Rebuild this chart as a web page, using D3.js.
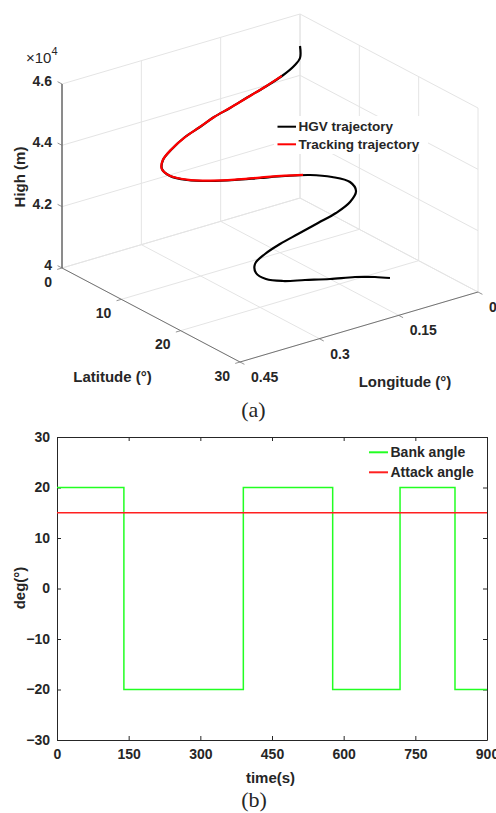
<!DOCTYPE html>
<html><head><meta charset="utf-8">
<script src="https://cdn.jsdelivr.net/npm/d3@7"></script>
<style>
body{margin:0;background:#fff}
text{font-family:"Liberation Sans",Arial,sans-serif;font-weight:bold;fill:#262626}
</style>
</head><body><svg id="c" width="496" height="813"></svg>
<script>
// ---------- (a) 3D trajectory data ----------
const hgvLat = [0,0.43,0.79,1.35,2.07,2.78,3.54,4.20,4.82,5.47,6.11,6.62,6.94,7.32,7.95,8.78,9.68,10.58,11.48,12.38,13.17,13.85,14.23,14.68,15.33,16.07,16.89,17.63,18.28,18.78,19.11,19.53,20.15,20.94,21.84,22.74,23.46,24.00];
const hgvLon = [0,0.0048,0.0202,0.0492,0.0894,0.1295,0.1720,0.2097,0.2431,0.2788,0.3106,0.3333,0.3388,0.3279,0.3028,0.2687,0.2315,0.1943,0.1571,0.1200,0.0872,0.0608,0.0537,0.0701,0.1039,0.1462,0.1933,0.2356,0.2713,0.2958,0.2976,0.2834,0.2582,0.2255,0.1883,0.1511,0.1214,0.0991];
const hgvHeight = [44957,44634,44488,44366,44285,44235,44169,44134,44041,43962,43797,43606,43373,43129,42935,42814,42750,42719,42687,42623,42473,42245,41955,41725,41604,41568,41532,41496,41418,41267,41016,40791,40662,40609,40545,40514,40437,40346];
const trkLat = [1.35,2.07,2.78,3.54,4.20,4.82,5.47,6.11,6.62,6.94,7.32,7.95,8.78,9.68,10.58,11.48,12.10];
const trkLon = [0.0495,0.0890,0.1300,0.1716,0.2101,0.2427,0.2792,0.3110,0.3338,0.3392,0.3282,0.3030,0.2690,0.2318,0.1946,0.1574,0.1300];
const trkHeight = [44372,44292,44228,44176,44128,44048,43955,43803,43600,43380,43140,42950,42830,42762,42735,42700,42650];
const latTicks = [0,10,20,30];
const lonTicks = [0.45,0.3,0.15,0];
const lonTickLabels = ["0.45","0.3","0.15","0"];
const heightTicks = [40000,42000,44000,46000];
const heightTickLabels = ["4","4.2","4.4","4.6"];
const legendA = ["HGV trajectory","Tracking trajectory"];
const colorsA = ["#000000","#ff0000"];

// ---------- (b) angle data ----------
const bankTime = [0,140,390,577,718,833,900];
const bankValue = [20,-20,20,-20,20,-20,-20];
const attackTime = [0,900];
const attackValue = [15,15];
const timeTicks = [0,150,300,450,600,750,900];
const degTicks = [-30,-20,-10,0,10,20,30];
const legendB = ["Bank angle","Attack angle"];
const colorsB = ["#22ff22","#ff2020"];

const FONT = "'Liberation Sans',Arial,sans-serif";
const svg = d3.select("#c");
svg.append("rect").attr("width",496).attr("height",813).attr("fill","#fff");

// ---------- 3D projection ----------
const latS = d3.scaleLinear().domain([0,30]).range([0,1]);
const lonS = d3.scaleLinear().domain([0.45,0]).range([0,1]);
const hS = d3.scaleLinear().domain([40000,46000]).range([268,84]);
const LV = [178,94], NV = [238,-70], X0 = 62;
function P(lat,lon,h){const a=latS(lat), b=lonS(lon); return [X0+LV[0]*a+NV[0]*b, hS(h)+LV[1]*a+NV[1]*b];}
const gA = svg.append("g");
function seg(g,p,q,stroke,w){g.append("line").attr("x1",p[0]).attr("y1",p[1]).attr("x2",q[0]).attr("y2",q[1]).attr("stroke",stroke).attr("stroke-width",w);}
function txt(g,xx,yy,s,size,anchor){return g.append("text").attr("x",xx).attr("y",yy).attr("text-anchor",anchor||"start").attr("dominant-baseline","central").attr("font-size",size).style("font-family",FONT).text(s);}
const GC = "#e4e4e4";
const hMin=40000,hMax=46000,latMax=30;
// wall lat=0
lonTicks.forEach(l=>seg(gA,P(0,l,hMin),P(0,l,hMax),GC,1));
heightTicks.forEach(h=>seg(gA,P(0,0.45,h),P(0,0,h),GC,1));
// wall lon=0
latTicks.forEach(l=>seg(gA,P(l,0,hMin),P(l,0,hMax),GC,1));
heightTicks.forEach(h=>seg(gA,P(0,0,h),P(latMax,0,h),GC,1));
// floor
latTicks.forEach(l=>seg(gA,P(l,0.45,hMin),P(l,0,hMin),GC,1));
lonTicks.forEach(l=>seg(gA,P(0,l,hMin),P(latMax,l,hMin),GC,1));
// axes
seg(gA,P(0,0.45,hMin),P(0,0.45,hMax),"#262626",1);
seg(gA,P(0,0.45,hMin),P(latMax,0.45,hMin),"#555",0.8);
seg(gA,P(latMax,0.45,hMin),P(latMax,0,hMin),"#555",0.8);
const nL=Math.hypot(LV[0],LV[1]), nN=Math.hypot(NV[0],NV[1]);
heightTicks.forEach((h,i)=>{const p=P(0,0.45,h);seg(gA,p,[p[0]-5*LV[0]/nL,p[1]-5*LV[1]/nL],"#777",0.8);
  txt(gA,p[0]-10,p[1]-3,heightTickLabels[i],14,"end");});
latTicks.forEach(l=>{const p=P(l,0.45,hMin);seg(gA,p,[p[0]-5*NV[0]/nN,p[1]-5*NV[1]/nN],"#777",0.8);
  txt(gA,p[0]-10,p[1]+13.5,l,14,"end");});
lonTicks.forEach((l,i)=>{const p=P(latMax,l,hMin);seg(gA,p,[p[0]+5*LV[0]/nL,p[1]+5*LV[1]/nL],"#777",0.8);
  txt(gA,p[0]+11,p[1]+15,lonTickLabels[i],14,"start");});
// exponent
const ex = txt(gA,26,57,"",15,"start").style("font-weight","normal");
ex.append("tspan").text("×10");
ex.append("tspan").attr("font-size",11).attr("dy",-6).text("4");
// axis titles
txt(gA,0,0,"High (m)",15,"middle").attr("transform","translate(19,177) rotate(-90)");
txt(gA,112.5,376,"Latitude (°)",15,"middle");
txt(gA,405,381.5,"Longitude (°)",15,"middle");
// trajectories
const line3 = d3.line().x(d=>d[0]).y(d=>d[1]).curve(d3.curveCatmullRom.alpha(0.5));
const hgvPts = hgvLat.map((l,i)=>P(l,hgvLon[i],hgvHeight[i]));
const trkPts = trkLat.map((l,i)=>P(l,trkLon[i],trkHeight[i]));
gA.append("path").attr("d",line3(hgvPts)).attr("fill","none").attr("stroke",colorsA[0]).attr("stroke-width",2.2);
gA.append("path").attr("d",line3(trkPts)).attr("fill","none").attr("stroke",colorsA[1]).attr("stroke-width",2.2);
// legend
gA.append("rect").attr("x",274).attr("y",116).attr("width",154).attr("height",38).attr("fill","#fff");
legendA.forEach((t,i)=>{const yy=126.7+i*17.6;
  seg(gA,[277.5,yy],[296,yy],colorsA[i],2);
  txt(gA,298.5,yy,t,13.5,"start");});
gA.append("text").attr("x",253.5).attr("y",417).attr("text-anchor","middle").attr("font-size",22)
  .style("font-family","'Liberation Serif','Times New Roman',serif").style("font-weight","normal").text("(a)");

// ---------- (b) ----------
const gB = svg.append("g");
const x = d3.scaleLinear().domain([0,900]).range([57,487]);
const y = d3.scaleLinear().domain([-30,30]).range([740,437]);
function styleAxis(g){g.selectAll("path,line").attr("stroke","#262626").attr("stroke-width",1);
  g.selectAll("text").attr("font-size",14).style("font-family",FONT).attr("font-weight","bold").attr("fill","#262626");}
gB.append("g").attr("transform","translate(0,740)").call(d3.axisBottom(x).tickValues(timeTicks).tickSizeInner(-4).tickSizeOuter(0).tickPadding(9)).call(styleAxis);
gB.append("g").attr("transform","translate(0,437)").call(d3.axisTop(x).tickValues(timeTicks).tickSizeInner(-4).tickSizeOuter(0).tickFormat("")).call(styleAxis);
gB.append("g").attr("transform","translate(57,0)").call(d3.axisLeft(y).tickValues(degTicks).tickSizeInner(-4).tickSizeOuter(0).tickPadding(7)).call(styleAxis);
gB.append("g").attr("transform","translate(487,0)").call(d3.axisRight(y).tickValues(degTicks).tickSizeInner(-4).tickSizeOuter(0).tickFormat("")).call(styleAxis);
const stepLine = d3.line().x(d=>x(d[0])).y(d=>y(d[1])).curve(d3.curveStepAfter);
gB.append("path").attr("d",stepLine(bankTime.map((t,i)=>[t,bankValue[i]]))).attr("fill","none").attr("stroke",colorsB[0]).attr("stroke-width",1.5);
gB.append("path").attr("d",stepLine(attackTime.map((t,i)=>[t,attackValue[i]]))).attr("fill","none").attr("stroke",colorsB[1]).attr("stroke-width",1.5);
legendB.forEach((t,i)=>{const yy=452.3+i*20;
  seg(gB,[369,yy],[388,yy],colorsB[i],2);
  txt(gB,390.5,yy,t,14,"start");});
txt(gB,0,0,"deg(°)",15,"middle").attr("transform","translate(19,588) rotate(-90)");
txt(gB,270.5,777,"time(s)",15,"middle");
gB.append("text").attr("x",254).attr("y",807).attr("text-anchor","middle").attr("font-size",22)
  .style("font-family","'Liberation Serif','Times New Roman',serif").style("font-weight","normal").text("(b)");
</script></body></html>
